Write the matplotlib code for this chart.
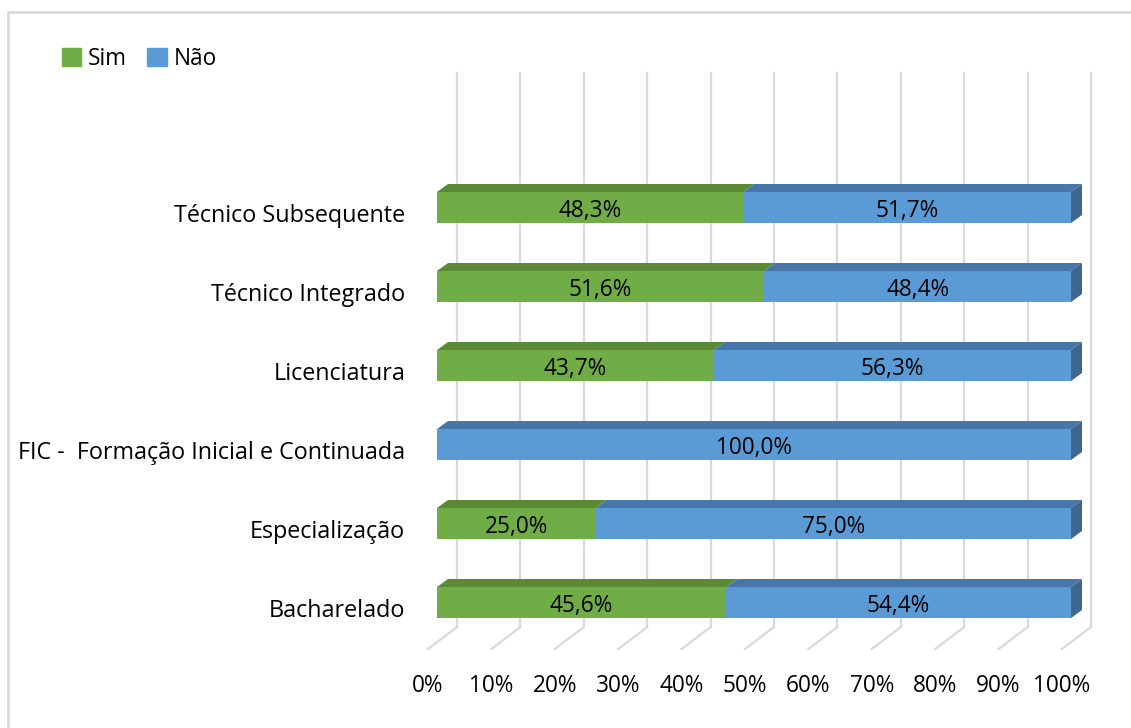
import matplotlib.pyplot as plt
from matplotlib.patches import Polygon, Rectangle, Patch
import numpy as np

plt.rcParams['font.family'] = ['Open Sans', 'DejaVu Sans']

# dados (de baixo para cima)
categorias = ["Bacharelado", "Especialização", "FIC -  Formação Inicial e Continuada",
              "Licenciatura", "Técnico Integrado", "Técnico Subsequente"]
sim = np.array([45.6, 25.0, 0.0, 43.7, 51.6, 48.3])
nao = np.array([54.4, 75.0, 100.0, 56.3, 48.4, 51.7])
ticks = np.arange(0, 101, 10)

verde, verde_top = "#70ad47", "#5a8a38"
azul, azul_top, azul_lado = "#5b9bd5", "#4677a8", "#3d6791"
grade = "#d9d9d9"
fs = 16.3

W, H = 1131, 728
fig = plt.figure(figsize=(W / 100, H / 100), dpi=100)

# escala: 0% -> px 437, 100% -> px 1071 ; categoria 0 -> px 602.5, passo 79 px
px_x = 6.34
px_y = 79.0
xmin, xmax = -3, 104
ymin, ymax = -0.67, 6.87
left = 437 + xmin * px_x
right = 437 + xmax * px_x
bottom = 602.5 + (-ymin) * px_y
top = 602.5 - ymax * px_y
ax = fig.add_axes([left / W, 1 - bottom / H, (right - left) / W, (bottom - top) / H])
ax.set_xlim(xmin, xmax)
ax.set_ylim(ymin, ymax)
ax.axis('off')

# profundidades em unidades de dados
d_bar = (11 / px_x, 8 / px_y)
d_wall = (20 / px_x, 15 / px_y)
d_front = (-9 / px_x, -7 / px_y)
h = 31 / px_y
y = np.arange(len(categorias))

# parede do fundo e chão
y_floor_back = (602.5 - 627) / px_y
y_floor_front = (602.5 - 649) / px_y
y_top = (602.5 - 73) / px_y
for t in ticks:
    ax.plot([t + d_wall[0]] * 2, [y_floor_back, y_top], color=grade, lw=1.6, zorder=1)
    ax.plot([t + d_wall[0], t + d_front[0]], [y_floor_back, y_floor_front], color=grade, lw=1.6, zorder=1)
    ax.text(t + d_front[0], (602.5 - 686) / px_y, f"{t}%", ha='center', va='center', fontsize=fs)

# barras
ax.barh(y, sim, height=h, color=verde, zorder=3)
ax.barh(y, nao, left=sim, height=h, color=azul, zorder=3)

for yi, s, n, cat in zip(y, sim, nao, categorias):
    yt = yi + h / 2
    for x0, w, c in [(0, s, verde_top), (s, n, azul_top)]:
        if w <= 0:
            continue
        ax.add_patch(Polygon([(x0, yt), (x0 + w, yt), (x0 + w + d_bar[0], yt + d_bar[1]),
                              (x0 + d_bar[0], yt + d_bar[1])], closed=True, color=c, lw=0, zorder=2))
    xe = s + n
    ax.add_patch(Polygon([(xe, yi - h / 2), (xe, yt), (xe + d_bar[0], yt + d_bar[1]),
                          (xe + d_bar[0], yi - h / 2 + d_bar[1])], closed=True, color=azul_lado, lw=0, zorder=2))
    if s > 0:
        ax.text(s / 2, yi - 0.04, f"{s:.1f}%".replace('.', ','), ha='center', va='center', fontsize=fs, zorder=4)
    ax.text(s + n / 2, yi - 0.04, f"{n:.1f}%".replace('.', ','), ha='center', va='center', fontsize=fs, zorder=4)
    ax.text(d_front[0] - 3.6, yi - 0.11, cat, ha='right', va='center', fontsize=16.8)

# legenda
fig.legend(handles=[Patch(color=verde, label="Sim"), Patch(color=azul, label="Não")],
           loc='center left', bbox_to_anchor=(62 / W, 1 - 59 / H), ncol=2, frameon=False,
           fontsize=fs, handlelength=0.85, handleheight=0.85, handletextpad=0.3, columnspacing=0.9,
           borderpad=0, borderaxespad=0)

# borda do gráfico
fig.patches.append(Rectangle((8 / W, -0.1), 1.2, 1 - 12 / H + 0.1, transform=fig.transFigure,
                             fill=False, edgecolor=grade, lw=2))

fig.savefig("out.png", dpi=100)
